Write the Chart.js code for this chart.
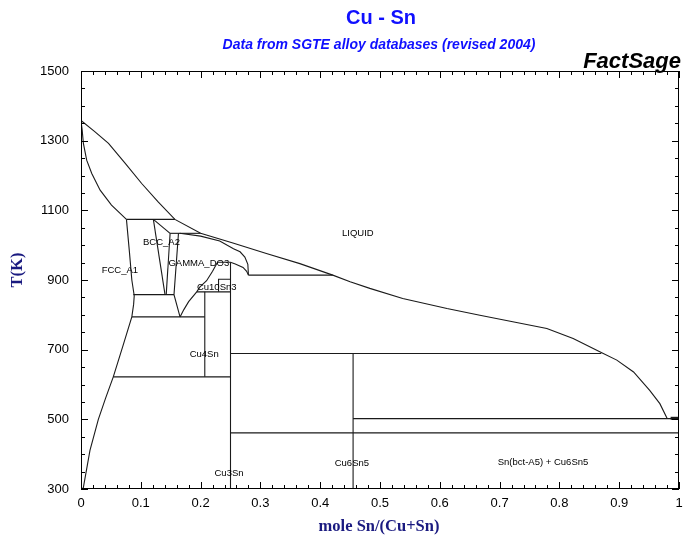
<!DOCTYPE html>
<html><head><meta charset="utf-8">
<script src="https://cdn.jsdelivr.net/npm/chart.js@4.4.0/dist/chart.umd.min.js"></script>
<style>html,body{margin:0;padding:0;background:#fff}</style>
</head><body>
<canvas id="c" width="683" height="541"></canvas>
<script>
// ---- data (mole fraction Sn, temperature K) ----
const xTickValues = [0,0.1,0.2,0.3,0.4,0.5,0.6,0.7,0.8,0.9,1];
const yTickValues = [300,500,700,900,1100,1300,1500];

const liquidus = [[0,1358],[0.023,1326],[0.046,1292],[0.074,1235],[0.1015,1177],[0.129,1124],[0.157,1074],[0.2,1034],[0.254,1006],[0.31,976],[0.366,947],[0.421,914],[0.45,895],[0.483,876],[0.538,847],[0.612,818],[0.667,799],[0.722,780],[0.779,761],[0.823,732],[0.87,692],[0.896,670],[0.924,636],[0.951,583],[0.968,545],[0.98,503]];
const fccSolidus = [[0,1358],[0.002,1330],[0.004,1292],[0.0095,1244],[0.018,1206],[0.032,1158],[0.051,1115],[0.076,1074]];
const fccSolvus = [[0.076,1074],[0.081,980],[0.085,900],[0.089,855],[0.088,830],[0.085,794],[0.07,710],[0.054,622],[0.041,560],[0.029,500],[0.015,411],[0.004,305],[0.003,300]];
const bccLeft = [[0.121,1074],[0.1405,858]];
const bccTop = [[0.121,1074],[0.149,1034]];
const bccRight = [[0.149,1034],[0.1425,858]];
const gammaLeft = [[0.163,1034],[0.1555,858],[0.1656,794]];
const gammaSolidus = [[0.165,1034],[0.2,1026],[0.232,1012],[0.255,990],[0.266,981],[0.274,966],[0.279,945],[0.28,914]];
const gammaRight = [[0.1656,794],[0.172,815],[0.18,838],[0.1935,866],[0.199,880],[0.21,898],[0.22,925],[0.228,950]];
const epsilonCurve = [[0.228,951],[0.25,951],[0.258,946],[0.271,936],[0.277,925],[0.28,914]];
const cu10sn3Box = [[0.23,866],[0.23,902],[0.25,902]];
const snEnd = [[0.986,503],[1,503]];

// isotherms: temperature, left x, right x
const isoT  = [1074, 1034, 914, 858, 866, 794, 689, 622, 502, 461];
const isoX1 = [0.076, 0.149, 0.28, 0.0875, 0.1935, 0.085, 0.25, 0.054, 0.455, 0.25];
const isoX2 = [0.157, 0.2, 0.421, 0.1555, 0.25, 0.207, 0.87, 0.25, 1, 1];

// compound lines: x, lower T, upper T
const compX  = [0.207, 0.25, 0.455];
const compT1 = [622, 300, 300];
const compT2 = [866, 951, 689];

// phase labels
const phaseNames = ['LIQUID','FCC_A1','BCC_A2','GAMMA_DO3','Cu10Sn3','Cu4Sn','Cu3Sn','Cu6Sn5','Sn(bct-A5) + Cu6Sn5'];
const phaseX = [0.463, 0.065, 0.1346, 0.197, 0.227, 0.206, 0.2475, 0.453, 0.7726];
const phaseT = [1034, 928, 1009, 948, 879, 687, 345, 374, 376];

// ---- build datasets ----
const toPts = a => a.map(p => ({x:p[0], y:p[1]}));
const curves = [liquidus, fccSolidus, fccSolvus, bccLeft, bccTop, bccRight, gammaLeft, gammaSolidus, gammaRight, epsilonCurve, cu10sn3Box];
const datasets = [];
curves.forEach(c => datasets.push({data: toPts(c)}));
isoT.forEach((t,i) => datasets.push({data: [{x:isoX1[i], y:t},{x:isoX2[i], y:t}]}));
compX.forEach((x,i) => datasets.push({data: [{x:x, y:compT1[i]},{x:x, y:compT2[i]}]}));
datasets.push({data: toPts(snEnd), borderWidth: 3});
datasets.forEach(d => {
  d.showLine = true; d.pointRadius = 0; d.borderColor = '#1a1a1a';
  if (!d.borderWidth) d.borderWidth = 1.1; d.tension = 0; d.fill = false;
});

const FONT = 'Liberation Sans, Arial, sans-serif';

const deco = {
  id: 'deco',
  afterDatasetsDraw(chart) {
    const ctx = chart.ctx, xs = chart.scales.x, ys = chart.scales.y;
    const a = chart.chartArea;
    ctx.save();
    // frame
    ctx.strokeStyle = '#000'; ctx.lineWidth = 1;
    ctx.strokeRect(a.left + 0.5, a.top + 0.5, a.right - a.left - 1, a.bottom - a.top - 1);
    // inner ticks
    ctx.beginPath();
    for (let i = 0; i <= 50; i++) {
      const v = i / 50;
      const px = Math.round(xs.getPixelForValue(v)) + 0.5;
      const len = (i % 5 === 0) ? 7 : 4;
      ctx.moveTo(px, a.bottom); ctx.lineTo(px, a.bottom - len);
      ctx.moveTo(px, a.top); ctx.lineTo(px, a.top + len);
    }
    for (let t = 300; t <= 1500; t += 50) {
      const py = Math.round(ys.getPixelForValue(t)) + 0.5;
      const len = ((t - 300) % 200 === 0) ? 7 : 4;
      ctx.moveTo(a.left, py); ctx.lineTo(a.left + len, py);
      ctx.moveTo(a.right, py); ctx.lineTo(a.right - len, py);
    }
    ctx.stroke();
    // phase labels
    ctx.fillStyle = '#000';
    ctx.font = '9.5px ' + FONT;
    ctx.textAlign = 'center'; ctx.textBaseline = 'middle';
    phaseNames.forEach((n, i) => {
      ctx.fillText(n, xs.getPixelForValue(phaseX[i]), ys.getPixelForValue(phaseT[i]));
    });
    // titles
    ctx.fillStyle = '#1010ff';
    ctx.font = 'bold 20px ' + FONT;
    ctx.fillText('Cu - Sn', 381, 18);
    ctx.font = 'italic bold 14px ' + FONT;
    ctx.fillText('Data from SGTE alloy databases (revised 2004)', 379, 45);
    ctx.fillStyle = '#000';
    ctx.font = 'italic bold 22px ' + FONT;
    ctx.textAlign = 'right'; ctx.textBaseline = 'alphabetic';
    ctx.fillText('FactSage', 681, 68);
    // axis titles
    ctx.fillStyle = '#1a1a80';
    ctx.font = 'bold 16.5px Liberation Serif, Times New Roman, serif';
    ctx.textAlign = 'center'; ctx.textBaseline = 'middle';
    ctx.fillText('mole Sn/(Cu+Sn)', 379, 527);
    ctx.translate(18, 270); ctx.rotate(-Math.PI / 2);
    ctx.fillText('T(K)', 0, 0);
    ctx.restore();
  }
};

new Chart(document.getElementById('c'), {
  type: 'scatter',
  data: { datasets },
  options: {
    responsive: false,
    animation: false,
    layout: { padding: { top: 71, right: 4, left: 0, bottom: 0 } },
    plugins: { legend: { display: false }, tooltip: { enabled: false }, title: { display: false } },
    scales: {
      x: {
        type: 'linear', min: 0, max: 1,
        afterBuildTicks: s => { s.ticks = xTickValues.map(v => ({value: v})); },
        afterFit: s => { s.height = 52; s.paddingLeft = 0; s.paddingRight = 0; },
        grid: { display: false, drawTicks: false },
        border: { display: false },
        ticks: { color: '#000', font: { family: FONT, size: 13 }, padding: 7,
                 callback: v => String(Math.round(v * 10) / 10) }
      },
      y: {
        type: 'linear', min: 300, max: 1500,
        afterBuildTicks: s => { s.ticks = yTickValues.map(v => ({value: v})); },
        afterFit: s => { s.width = 81; s.paddingTop = 0; s.paddingBottom = 0; },
        grid: { display: false, drawTicks: false },
        border: { display: false },
        ticks: { color: '#000', font: { family: FONT, size: 13 }, padding: 12,
                 callback: v => String(v) }
      }
    }
  },
  plugins: [deco]
});
</script>
</body></html>
